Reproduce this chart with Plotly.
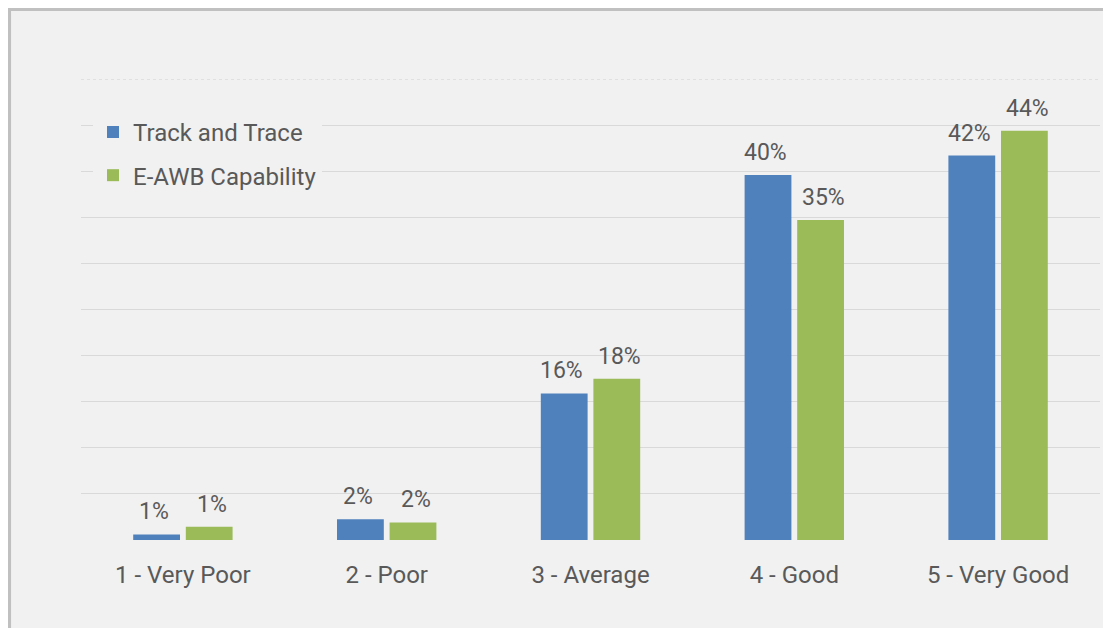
import plotly.graph_objects as go

categories = ["1 - Very Poor", "2 - Poor", "3 - Average", "4 - Good", "5 - Very Good"]
track_trace = [0.6, 2.25, 15.9, 39.6, 41.7]
eawb = [1.45, 1.9, 17.5, 34.7, 44.4]
track_labels = ["1%", "2%", "16%", "40%", "42%"]
eawb_labels = ["1%", "2%", "18%", "35%", "44%"]
y_ticks = [0, 5, 10, 15, 20, 25, 30, 35, 40, 45]

BLUE = "#4f81bd"
GREEN = "#9bbb59"
TXT = "#595959"
FONT = "Roboto"

fig = go.Figure()
fig.add_trace(go.Bar(name="Track and Trace", x=categories, y=track_trace,
                     marker=dict(color=BLUE, line=dict(width=0)), legendgroup="a"))
fig.add_trace(go.Bar(name="E-AWB Capability", x=categories, y=eawb,
                     marker=dict(color=GREEN, line=dict(width=0)), legendgroup="b"))

annotations = []
for c, v, t in zip(categories, track_trace, track_labels):
    annotations.append(dict(x=c, y=v, text=t, xref="x", yref="y", showarrow=False,
                            xshift=-29, yshift=7, yanchor="bottom",
                            font=dict(family=FONT, size=23, color=TXT)))
for c, v, t in zip(categories, eawb, eawb_labels):
    annotations.append(dict(x=c, y=v, text=t, xref="x", yref="y", showarrow=False,
                            xshift=29, yshift=7, yanchor="bottom",
                            font=dict(family=FONT, size=23, color=TXT)))

shapes = [
    # chart frame (background panel with grey top/left border)
    dict(type="rect", xref="paper", yref="paper", x0=-0.0711, x1=1.05, y0=-0.35, y1=1.1529,
         fillcolor="#f1f1f1", line=dict(color="#c0c0c0", width=5), layer="below"),
    # dotted top gridline
    dict(type="line", xref="paper", yref="y", x0=0, x1=1, y0=50, y1=50,
         line=dict(color="#d0d0d0", width=1, dash="dot"), layer="below"),
]

fig.update_layout(
    width=1103, height=620,
    margin=dict(l=73, r=11, t=71, b=88),
    paper_bgcolor="white",
    plot_bgcolor="rgba(0,0,0,0)",
    barmode="group",
    bargap=0.484,
    bargroupgap=0.11,
    font=dict(family=FONT, size=24, color=TXT),
    showlegend=True,
    legend=dict(x=0.0118, y=0.933, xanchor="left", yanchor="top",
                bgcolor="#f1f1f1", borderwidth=0, tracegroupgap=9,
                traceorder="grouped",
                font=dict(family=FONT, size=24, color=TXT)),
    xaxis=dict(showgrid=False, showline=False, ticks="", ticklabelstandoff=18,
               tickfont=dict(family=FONT, size=24, color=TXT)),
    yaxis=dict(range=[0, 50], tickvals=y_ticks, showticklabels=False,
               showgrid=True, gridcolor="#d9d9d9", gridwidth=1,
               zeroline=False, showline=False),
    annotations=annotations,
    shapes=shapes,
)

fig.write_html("out.html")
